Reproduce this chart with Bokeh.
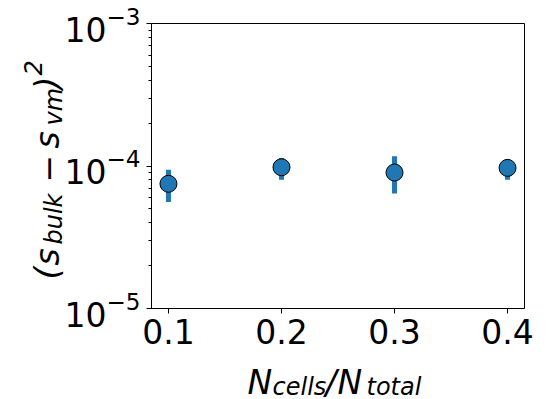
from bokeh.plotting import figure
from bokeh.models import Range1d, FixedTicker, LogTicker, LogTickFormatter, ColumnDataSource
from bokeh.core.properties import value
from bokeh.embed import file_html
from bokeh.resources import INLINE
import math

# data
frac = [0.1, 0.2, 0.3, 0.4]
err_sq = [7.5e-5, 9.8e-5, 9.0e-5, 9.7e-5]
err_lo = [5.6e-5, 8.0e-5, 6.4e-5, 8.0e-5]
err_hi = [9.4e-5, 1.14e-4, 1.17e-4, 1.12e-4]
x_ticks = [0.1, 0.2, 0.3, 0.4]

# axis label pieces (math-style text, composed of runs)
xlabel_runs = ["N\u2009", "cells", "/\u2009", "N\u2009", "total"]
ylabel_runs = ["(", "s", "bulk", "\u2212", "s", "vm", ")", "2"]

W, H = 549, 399
FL, FT, FR, FB = 151, 23, 524, 308   # frame edges in canvas pixels
BLUE = "#1f77b4"

xr = Range1d(0.085, 0.415)
yr = Range1d(1e-5, 1e-3)
p = figure(width=W, height=H, y_axis_type="log", x_range=xr, y_range=yr,
           output_backend="svg", toolbar_location=None,
           min_border_left=FL, min_border_right=W - FR,
           min_border_top=FT, min_border_bottom=H - FB)
p.background_fill_color = "white"
p.border_fill_color = "white"
p.outline_line_color = "black"
p.outline_line_alpha = 1
p.outline_line_width = 1
p.grid.visible = False

src = ColumnDataSource(dict(x=frac, y=err_sq, lo=err_lo, hi=err_hi))
p.segment(x0="x", y0="lo", x1="x", y1="hi", source=src, line_color=BLUE, line_width=5)
p.scatter(x="x", y="y", source=src, size=17, fill_color=BLUE, line_color="black", line_width=1)

xa = p.xaxis[0]
xa.ticker = FixedTicker(ticks=x_ticks, minor_ticks=[])
ya = p.yaxis[0]
ya.ticker = LogTicker(num_minor_ticks=10)
ya.formatter = LogTickFormatter()
for ax in (xa, ya):
    ax.axis_line_color = "black"
    ax.major_tick_line_color = "black"
    ax.minor_tick_line_color = "black"
    ax.major_tick_in = 0
    ax.major_tick_out = 5
    ax.minor_tick_in = 0
    ax.minor_tick_out = 3
    ax.major_label_text_font = "DejaVu Sans"
    ax.major_label_text_font_size = "33px"
    ax.major_label_text_color = "black"
xa.major_label_standoff = 5
ya.major_label_standoff = 6

# layout of the label runs: canvas position (X, Y of baseline start), size, angle
x_pos = [(247, 382, 33), (272, 386, 24), (325, 382, 33), (337, 382, 33), (366, 386, 24)]
y_pos = [(47, 279, 33), (47, 265, 33), (53, 244, 24), (47, 182, 33),
         (47, 148, 33), (53, 125, 24), (47, 89, 33), (32, 75, 24)]

def runs(texts, pos, angle):
    n = len(texts)
    return ColumnDataSource(dict(
        x=[xr.start] * n, y=[yr.start] * n, text=texts,
        xo=[X - FL for X, Y, s in pos], yo=[Y - FB for X, Y, s in pos],
        fs=[f"{s}px" for X, Y, s in pos], ang=[angle] * n))

for s in (runs(xlabel_runs, x_pos, 0.0), runs(ylabel_runs, y_pos, math.pi / 2)):
    p.text(x="x", y="y", text="text", x_offset="xo", y_offset="yo", angle="ang",
           text_font_size="fs", source=s, text_font=value("DejaVu Sans"),
           text_font_style="italic", text_color="black", text_align="left",
           text_baseline="alphabetic", level="overlay")

open("out.html", "w").write(file_html(p, INLINE))
